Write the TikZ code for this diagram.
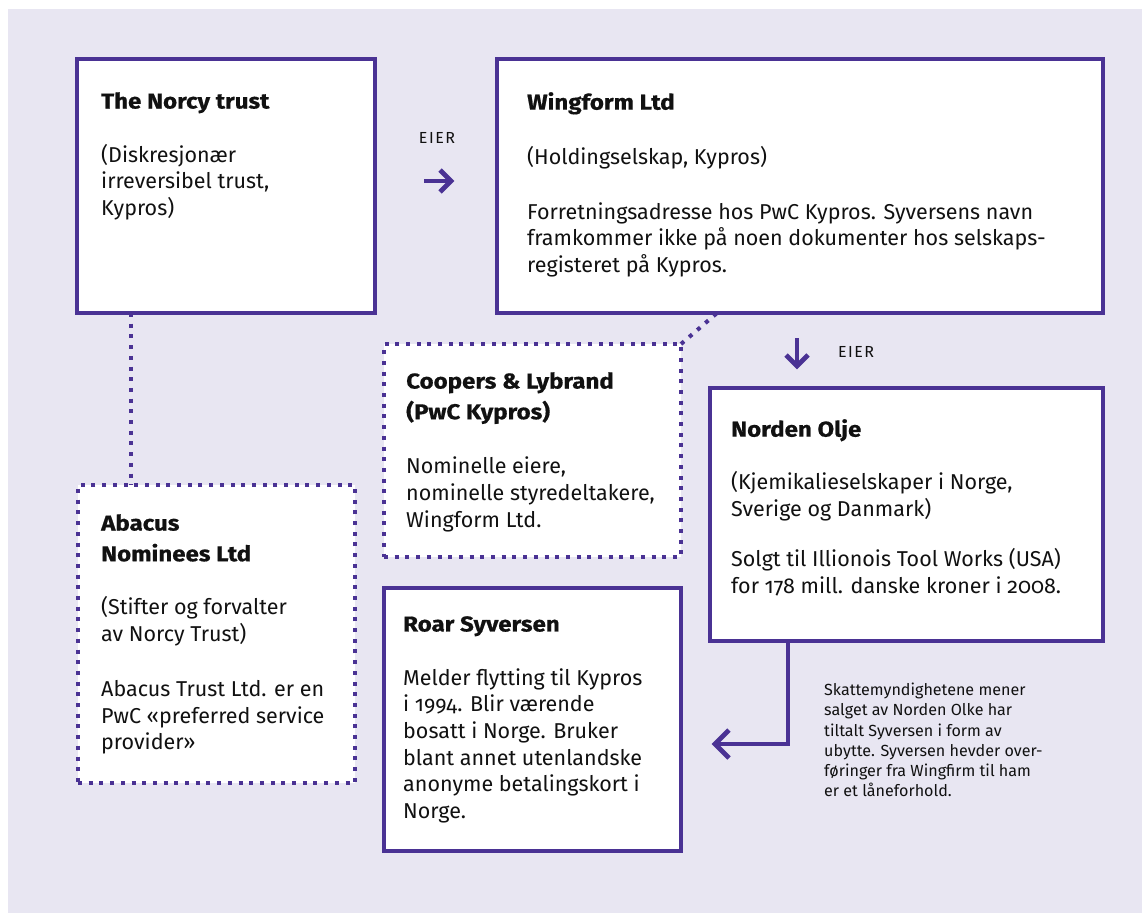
\documentclass[tikz,border=0pt]{standalone}
\usepackage{fontspec}
\setmainfont[Numbers=OldStyle,BoldFeatures={FakeStretch=1.12,FakeBold=0.6}]{Fira Sans}
\definecolor{lav}{RGB}{232,230,242}
\definecolor{pur}{RGB}{74,50,148}
\definecolor{ink}{RGB}{17,17,17}
\begin{document}
\begin{tikzpicture}[x=1pt,y=-1pt,
  box/.style={draw=pur,fill=white,line width=3.6pt,anchor=north west,inner sep=0,outer sep=0},
  dotbox/.style={box,dash pattern=on 4pt off 6.7pt},
  txt/.style={anchor=north west,inner sep=0,align=left,text=ink,font=\fontsize{21.5}{26.7}\selectfont},
  note/.style={anchor=north west,inner sep=0,align=left,text=ink,font=\fontsize{16.1}{20.2}\selectfont},
  lbl/.style={inner sep=0,text=ink,font=\fontsize{16}{18}\selectfont},
  dotline/.style={draw=pur,line width=4pt,dash pattern=on 4pt off 6.7pt},
  arr/.style={draw=pur,line width=4.8pt,line cap=butt,line join=miter}
]
\useasboundingbox (0,0) rectangle (1142,913);
\fill[white] (0,0) rectangle (1142,913);
\fill[lav] (8,9) rectangle (1142,913);

% boxes
\node[box,minimum width=298pt,minimum height=254pt] (norcy) at (77,59) {};
\node[box,minimum width=606pt,minimum height=254pt] (wing) at (497,59) {};
\node[dotbox,minimum width=297pt,minimum height=213pt] (coop) at (384,344) {};
\node[box,minimum width=393pt,minimum height=253pt] (norden) at (710,388) {};
\node[dotbox,minimum width=277pt,minimum height=298pt] (abacus) at (78,485) {};
\node[box,minimum width=297pt,minimum height=263pt] (roar) at (384,588) {};

% dotted connectors
\draw[dotline] (norcy.south -| 131,0) -- (abacus.north -| 131,0);
\draw[dotline] (coop.north east) -- (717,313);

% text
\node[txt] (norcyT) at (101,92) {\textbf{The Norcy trust}\\[27pt]
(Diskresjonær\\irreversibel trust,\\Kypros)};
\node[txt] (wingT) at (527,92) {\textbf{Wingform Ltd}\\[28pt]
(Holdingselskap, Kypros)\\[28pt]
Forretningsadresse hos PwC Kypros. Syversens navn\\
framkommer ikke på noen dokumenter hos selskaps-\\
registeret på Kypros.};
\node[txt] (coopT) at (406,372) {\textbf{Coopers \& Lybrand}\\[4pt]\textbf{(PwC Kypros)}\\[28pt]
Nominelle eiere,\\nominelle styredeltakere,\\Wingform Ltd.};
\node[txt] (nordenT) at (731,419) {\textbf{Norden Olje}\\[26pt]
(Kjemikalieselskaper i Norge,\\Sverige og Danmark)\\[24pt]
Solgt til Illionois Tool Works (USA)\\for 178 mill. danske kroner i 2008.};
\node[txt] (abacusT) at (101,514) {\textbf{Abacus}\\[4pt]\textbf{Nominees Ltd}\\[27pt]
(Stifter og forvalter\\av Norcy Trust)\\[28pt]
Abacus Trust Ltd. er en\\PwC «preferred service\\provider»};
\node[txt] (roarT) at (403,616) {\textbf{Roar Syversen}\\[27pt]
Melder flytting til Kypros\\i 1994. Blir værende\\bosatt i Norge. Bruker\\blant annet utenlandske\\anonyme betalingskort i\\Norge.};
\node[note] (noteT) at (824,683) {Skattemyndighetene mener\\salget av Norden Olke har\\tiltalt Syversen i form av\\ubytte. Syversen hevder over-\\føringer fra Wingfirm til ham\\er et låneforhold.};

% EIER labels and arrows
\node[lbl] (eier1) at (437,138) {E\kern1.5pt I\kern1.5pt E\kern1.5pt R};
\node[lbl] (eier2) at (856,352) {E\kern1.5pt I\kern1.5pt E\kern1.5pt R};
\coordinate (a1s) at (424,181);
\coordinate (a1e) at (451,181);
\draw[arr] (a1s) -- (a1e);
\draw[arr] (440,170) -- (451,181) -- (440,192);
\coordinate (a2s) at (797,338);
\coordinate (a2e) at (797,366);
\draw[arr] (a2s) -- (a2e);
\draw[arr] (786,355) -- (797,366) -- (808,355);

% L connector
\coordinate (bend) at (788,744);
\coordinate (tip) at (715,744);
\draw[arr] (norden.south -| bend) -- (bend) -- (tip);
\draw[arr] (729,730) -- (715,744) -- (729,758);
\end{tikzpicture}
\end{document}
